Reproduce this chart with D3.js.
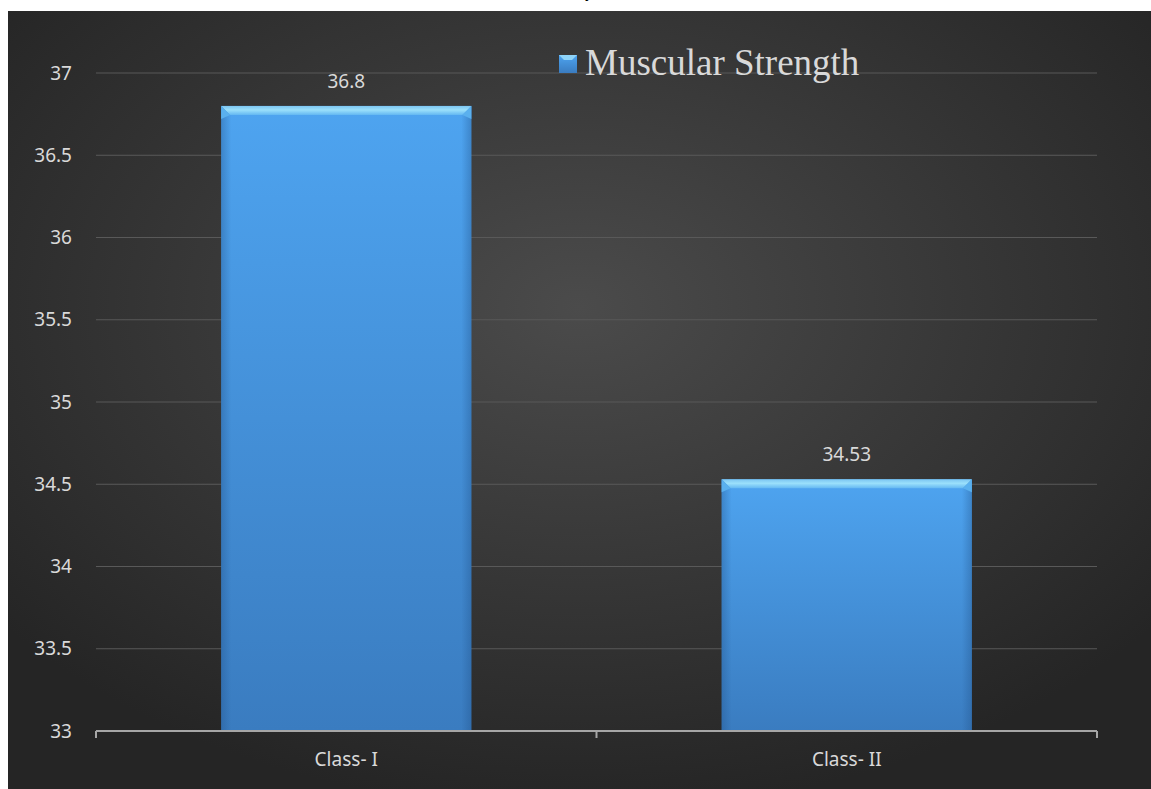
<!DOCTYPE html>
<html>
<head>
<meta charset="utf-8">
<script src="https://cdn.jsdelivr.net/npm/d3@7/dist/d3.min.js"></script>
<style>
  html, body { margin: 0; padding: 0; background: #ffffff; }
  svg { display: block; }
</style>
</head>
<body>
<svg id="chart" width="1151" height="789"></svg>
<script>
// data
const categories = ["Class- I", "Class- II"];
const values = [36.8, 34.53];
const yTicks = [33, 33.5, 34, 34.5, 35, 35.5, 36, 36.5, 37];
const seriesName = "Muscular Strength";

const svg = d3.select("#chart");
const W = 1151, H = 789;
const margin = {top: 73, right: 54, bottom: 58, left: 96};

const defs = svg.append("defs");

// background radial glow
const bg = defs.append("radialGradient")
    .attr("id", "bg").attr("cx", "50%").attr("cy", "38%").attr("r", "65%");
bg.append("stop").attr("offset", "0%").attr("stop-color", "#4b4b4b");
bg.append("stop").attr("offset", "55%").attr("stop-color", "#363636");
bg.append("stop").attr("offset", "100%").attr("stop-color", "#252525");

// bar fill
const barGrad = defs.append("linearGradient")
    .attr("id", "barFill").attr("x1", 0).attr("y1", 0).attr("x2", 0).attr("y2", 1);
barGrad.append("stop").attr("offset", "0%").attr("stop-color", "#4ea4f0");
barGrad.append("stop").attr("offset", "100%").attr("stop-color", "#3a7cc0");

// side shading
const sideGrad = defs.append("linearGradient")
    .attr("id", "barSide").attr("x1", 0).attr("y1", 0).attr("x2", 1).attr("y2", 0);
sideGrad.append("stop").attr("offset", "0%").attr("stop-color", "#1f4f86").attr("stop-opacity", 0.35);
sideGrad.append("stop").attr("offset", "4%").attr("stop-color", "#1f4f86").attr("stop-opacity", 0);
sideGrad.append("stop").attr("offset", "96%").attr("stop-color", "#1f4f86").attr("stop-opacity", 0);
sideGrad.append("stop").attr("offset", "100%").attr("stop-color", "#1f4f86").attr("stop-opacity", 0.35);

// bevel gradient
const bevelGrad = defs.append("linearGradient")
    .attr("id", "bevel").attr("x1", 0).attr("y1", 0).attr("x2", 0).attr("y2", 1);
bevelGrad.append("stop").attr("offset", "0%").attr("stop-color", "#7cc6f2");
bevelGrad.append("stop").attr("offset", "45%").attr("stop-color", "#9be0fb");
bevelGrad.append("stop").attr("offset", "100%").attr("stop-color", "#64b8f2");

// cut-off title descender in the white strip
svg.append("text")
    .attr("x", 589).attr("y", -2)
    .attr("text-anchor", "middle")
    .attr("font-family", "Liberation Sans, sans-serif")
    .attr("font-size", 16)
    .attr("fill", "#000")
    .text("y");

// panel
svg.append("rect")
    .attr("x", 8).attr("y", 11)
    .attr("width", W - 8).attr("height", H - 11)
    .attr("fill", "url(#bg)");

const x = d3.scaleBand()
    .domain(categories)
    .range([margin.left, W - margin.right])
    .paddingInner(0.5)
    .paddingOuter(0.25);

const y = d3.scaleLinear()
    .domain([33, 37])
    .range([H - margin.bottom, margin.top]);

const textColor = "#d9d9d9";
const sansFont = "Noto Sans, Open Sans, sans-serif";

// gridlines
svg.append("g")
    .selectAll("line")
    .data(yTicks.filter(d => d !== 33))
    .join("line")
    .attr("x1", margin.left).attr("x2", W - margin.right)
    .attr("y1", d => y(d)).attr("y2", d => y(d))
    .attr("stroke", "#595959")
    .attr("stroke-width", 1);

// y axis labels
const yAxis = d3.axisLeft(y).tickValues(yTicks).tickSize(0).tickPadding(24)
    .tickFormat(d3.format(""));
const gy = svg.append("g")
    .attr("transform", `translate(${margin.left},0)`)
    .call(yAxis);
gy.select(".domain").remove();
gy.selectAll("text")
    .attr("fill", textColor)
    .attr("font-family", sansFont)
    .attr("font-size", 19);

// bars
const bars = svg.append("g").selectAll("g")
    .data(categories.map((c, i) => ({c, v: values[i]})))
    .join("g");

bars.append("rect")
    .attr("x", d => x(d.c))
    .attr("y", d => y(d.v))
    .attr("width", x.bandwidth())
    .attr("height", d => y(33) - y(d.v))
    .attr("fill", "url(#barFill)");

bars.append("rect")
    .attr("x", d => x(d.c))
    .attr("y", d => y(d.v))
    .attr("width", x.bandwidth())
    .attr("height", d => y(33) - y(d.v))
    .attr("fill", "url(#barSide)");

// bevel on top
bars.append("path")
    .attr("d", d => {
        const x0 = x(d.c), x1 = x0 + x.bandwidth(), t = y(d.v), b = 9;
        return `M${x0},${t}L${x1},${t}L${x1 - b},${t + b}L${x0 + b},${t + b}Z`;
    })
    .attr("fill", "url(#bevel)");
bars.append("path")
    .attr("d", d => {
        const x0 = x(d.c), x1 = x0 + x.bandwidth(), t = y(d.v), b = 9;
        return `M${x0},${t}L${x0 + b},${t + b}L${x0},${t + b + 4}Z M${x1},${t}L${x1 - b},${t + b}L${x1},${t + b + 4}Z`;
    })
    .attr("fill", "#5ab0ee");

// value labels
bars.append("text")
    .attr("x", d => x(d.c) + x.bandwidth() / 2)
    .attr("y", d => y(d.v) - 18)
    .attr("text-anchor", "middle")
    .attr("fill", textColor)
    .attr("font-family", sansFont)
    .attr("font-size", 19)
    .text(d => d.v);

// x axis
const xAxis = d3.axisBottom(x).tickSize(0).tickPadding(22);
const gx = svg.append("g")
    .attr("transform", `translate(0,${y(33)})`)
    .call(xAxis);
gx.select(".domain").remove();
gx.selectAll("text")
    .attr("fill", textColor)
    .attr("font-family", sansFont)
    .attr("font-size", 19);

svg.append("line")
    .attr("x1", margin.left).attr("x2", W - margin.right)
    .attr("y1", y(33)).attr("y2", y(33))
    .attr("stroke", "#a6a6a6").attr("stroke-width", 2);

const tickPos = [margin.left, ...categories.slice(1).map(c => x(c) - x.step() * x.paddingInner() / 2), W - margin.right];
svg.append("g").selectAll("line")
    .data(tickPos)
    .join("line")
    .attr("x1", d => d).attr("x2", d => d)
    .attr("y1", y(33)).attr("y2", y(33) + 7)
    .attr("stroke", "#a6a6a6").attr("stroke-width", 2);

// legend
const lg = svg.append("g").attr("transform", "translate(559,55)");
lg.append("rect")
    .attr("width", 18).attr("height", 18)
    .attr("fill", "url(#barFill)");
lg.append("path")
    .attr("d", "M0,0L18,0L13,5L5,5Z")
    .attr("fill", "#8fd4f8");
lg.append("text")
    .attr("x", 26).attr("y", 20)
    .attr("fill", textColor)
    .attr("font-family", "Liberation Serif, Times New Roman, serif")
    .attr("font-size", 37)
    .text(seriesName);
</script>
</body>
</html>
